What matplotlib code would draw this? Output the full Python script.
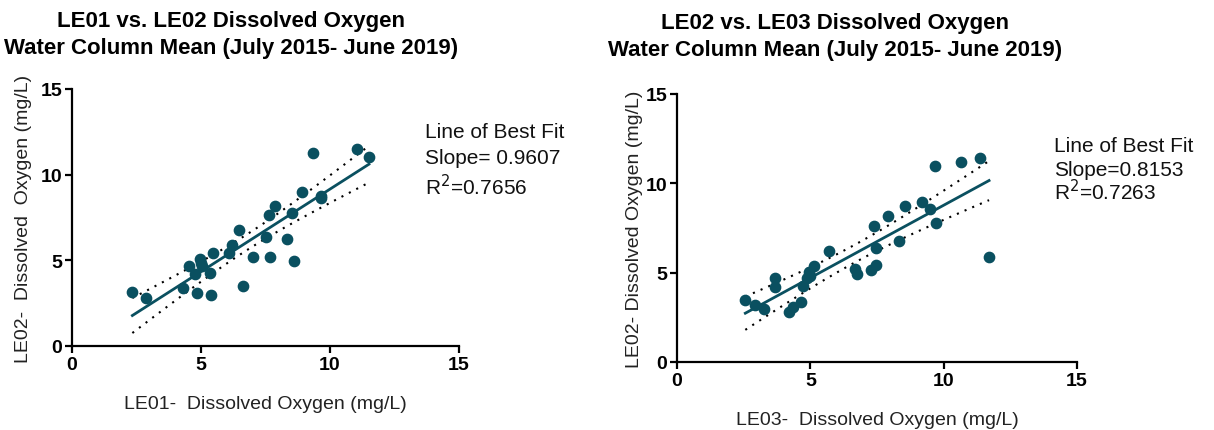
import matplotlib
matplotlib.use("Agg")
import matplotlib.pyplot as plt
import numpy as np

plt.rcParams['font.family'] = ['Liberation Sans', 'DejaVu Sans']

# LE01 vs LE02 (water column mean DO, mg/L)
le01_x = [2.34, 2.86, 4.29, 4.55, 4.86, 4.77, 4.96, 5.03, 5.00, 5.35, 5.38, 5.45,
          6.09, 6.21, 6.46, 6.63, 7.03, 7.52, 7.69, 7.62, 7.87, 8.35, 8.54, 8.62,
          8.93, 9.35, 9.64, 9.64, 11.03, 11.51]
le02_y = [3.17, 2.78, 3.37, 4.69, 3.09, 4.20, 5.08, 4.69, 4.85, 4.24, 2.98, 5.43,
          5.43, 5.92, 6.79, 3.48, 5.20, 6.36, 5.20, 7.63, 8.17, 6.23, 7.76, 4.94,
          8.97, 11.27, 8.78, 8.62, 11.48, 11.03]

# LE03 vs LE02
le03_x = [2.56, 2.92, 3.27, 3.67, 3.68, 4.21, 4.33, 4.64, 4.73, 4.86, 4.93, 4.98,
          5.14, 5.69, 6.69, 6.75, 7.28, 7.47, 7.46, 7.37, 7.91, 8.34, 8.55, 9.18,
          9.48, 9.70, 9.69, 10.64, 11.35, 11.70]
le02_y2 = [3.47, 3.19, 2.97, 4.72, 4.18, 2.78, 3.10, 3.38, 4.27, 4.68, 5.05, 4.80,
           5.39, 6.19, 5.20, 4.92, 5.17, 5.43, 6.36, 7.63, 8.17, 6.77, 8.75, 8.95,
           8.56, 7.76, 10.99, 11.21, 11.43, 5.86]

titles = ["LE01 vs. LE02 Dissolved Oxygen\nWater Column Mean (July 2015- June 2019)",
          "LE02 vs. LE03 Dissolved Oxygen\nWater Column Mean (July 2015- June 2019)"]
xlabels = ["LE01-  Dissolved Oxygen (mg/L)", "LE03-  Dissolved Oxygen (mg/L)"]
ylabels = ["LE02-  Dissolved  Oxygen (mg/L)", "LE02- Dissolved Oxygen (mg/L)"]
notes = [["Line of Best Fit", "Slope= 0.9607", "R$^2$=0.7656"],
         ["Line of Best Fit", "Slope=0.8153", "R$^2$=0.7263"]]

teal = "#0a5060"


def fit_band(x, y):
    x = np.asarray(x)
    y = np.asarray(y)
    n = len(x)
    b, a = np.polyfit(x, y, 1)
    xs = np.linspace(x.min(), x.max(), 100)
    ys = a + b * xs
    resid = y - (a + b * x)
    s = np.sqrt(np.sum(resid ** 2) / (n - 2))
    sxx = np.sum((x - x.mean()) ** 2)
    t = 2.048  # t(0.975, 28)
    half = t * s * np.sqrt(1.0 / n + (xs - x.mean()) ** 2 / sxx)
    return xs, ys, ys - half, ys + half


fig = plt.figure(figsize=(12.14, 4.31), dpi=100)
ax1 = fig.add_axes([0.0593, 0.1949, 0.3188, 0.5963])
ax2 = fig.add_axes([0.5577, 0.1578, 0.3295, 0.6218])

data = [(le01_x, le02_y), (le03_x, le02_y2)]
xlab_y = [-0.19, -0.183]
ylab_x = [-0.104, -0.085]
note_x = [425, 1054]
note_y = [[133, 158, 187], [147, 170, 192]]
title_pos = [(231, 35), (835, 37)]

for i, ax in enumerate([ax1, ax2]):
    x, y = data[i]
    xs, ys, lo, hi = fit_band(x, y)
    ax.plot(xs, hi, color="black", linestyle=(0, (1, 3)), linewidth=1.5)
    ax.plot(xs, lo, color="black", linestyle=(0, (1, 3)), linewidth=1.5)
    ax.plot(xs, ys, color=teal, linewidth=2)
    ax.scatter(x, y, s=55, color=teal, zorder=3, clip_on=False)

    ax.set_xlim(0, 15)
    ax.set_ylim(0, 15)
    ax.set_xticks([0, 5, 10, 15])
    ax.set_yticks([0, 5, 10, 15])
    for side in ["top", "right"]:
        ax.spines[side].set_visible(False)
    for side in ["left", "bottom"]:
        ax.spines[side].set_linewidth(1.6)
    ax.tick_params(width=1.6, length=5, labelsize=14, pad=2)
    for lab in ax.get_xticklabels() + ax.get_yticklabels():
        lab.set_fontweight("bold")

    ax.set_xlabel(xlabels[i], fontsize=14, color="#222222")
    ax.xaxis.set_label_coords(0.5, xlab_y[i])
    ax.set_ylabel(ylabels[i], fontsize=14, color="#222222")
    ax.yaxis.set_label_coords(ylab_x[i], 0.5)

    for line, py in zip(notes[i], note_y[i]):
        fig.text(note_x[i] / 1214, 1 - py / 431, line, fontsize=15,
                 va="center", color="#111111")
    tx, ty = title_pos[i]
    fig.text(tx / 1214, 1 - ty / 431, titles[i], fontsize=16, fontweight="bold",
             ha="center", va="center", linespacing=1.35)

fig.savefig("out.png", dpi=100)
